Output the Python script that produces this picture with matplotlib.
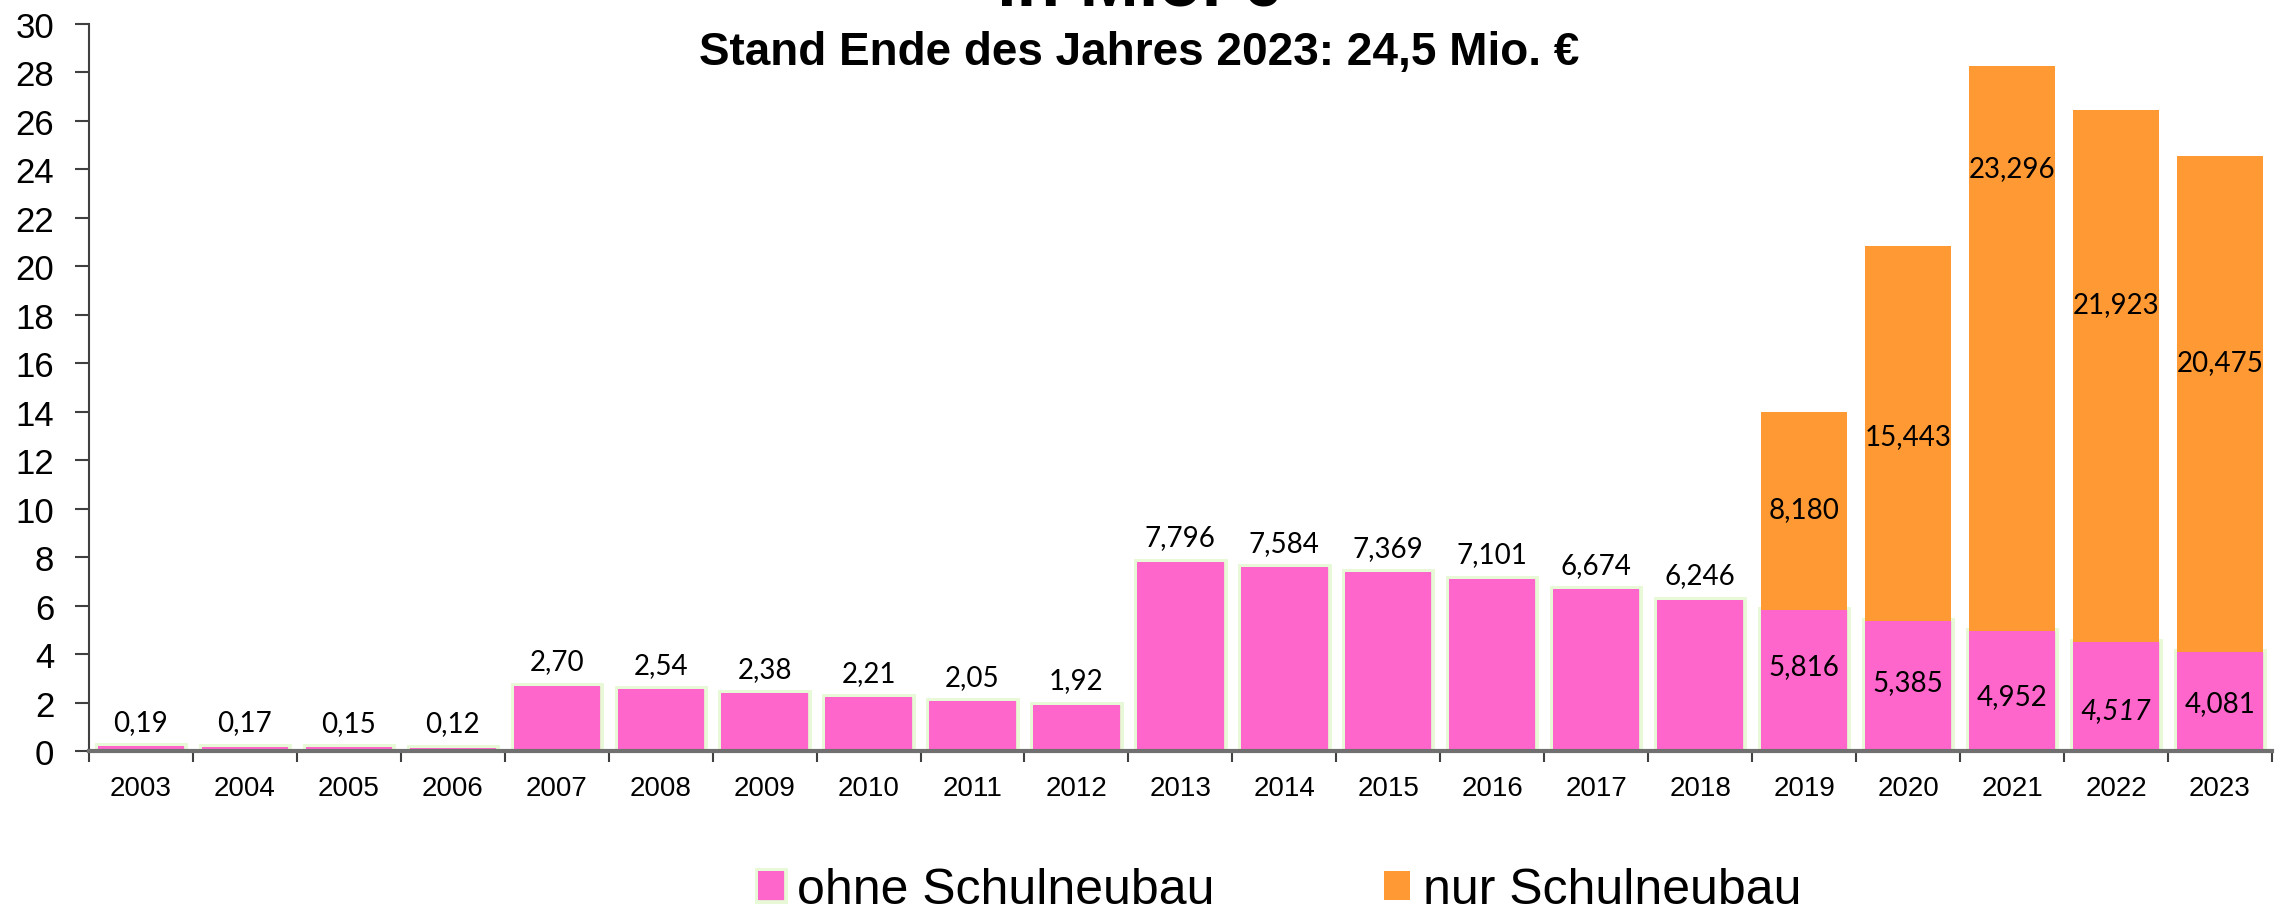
import matplotlib.pyplot as plt
import matplotlib.patheffects as pe
import numpy as np

# Daten (Mio. €)
jahre = ['2003', '2004', '2005', '2006', '2007', '2008', '2009', '2010', '2011', '2012',
         '2013', '2014', '2015', '2016', '2017', '2018', '2019', '2020', '2021', '2022', '2023']
ohne_schulneubau = [0.19, 0.17, 0.15, 0.12, 2.70, 2.54, 2.38, 2.21, 2.05, 1.92,
                    7.796, 7.584, 7.369, 7.101, 6.674, 6.246, 5.816, 5.385, 4.952, 4.517, 4.081]
nur_schulneubau = [0, 0, 0, 0, 0, 0, 0, 0, 0, 0,
                   0, 0, 0, 0, 0, 0, 8.180, 15.443, 23.296, 21.923, 20.475]
labels_ohne = ['0,19', '0,17', '0,15', '0,12', '2,70', '2,54', '2,38', '2,21', '2,05', '1,92',
               '7,796', '7,584', '7,369', '7,101', '6,674', '6,246',
               '5,816', '5,385', '4,952', '4,517', '4,081']
labels_nur = ['8,180', '15,443', '23,296', '21,923', '20,475']

# Beschriftungshoehen in den gestapelten Saeulen (wie im Original verschoben)
pos_ohne_stack = [3.5, 2.85, 2.25, 1.7, 2.0]
pos_nur_stack = [10.0, 13.0, 24.05, 18.45, 16.05]

PINK = '#FF66CC'
ORANGE = '#FF9933'

plt.rcParams['font.family'] = ['Liberation Sans', 'DejaVu Sans']

fig = plt.figure(figsize=(22.85, 9.12), dpi=100)
ax = fig.add_axes([0.0389, 0.1754, 0.9554, 0.7972])

x = np.arange(len(jahre))
glow = [pe.Stroke(linewidth=5, foreground='#d9f5bd', alpha=0.6), pe.Normal()]
b1 = ax.bar(x, ohne_schulneubau, width=0.83, color=PINK, label='ohne Schulneubau',
            path_effects=glow)
b2 = ax.bar(x, nur_schulneubau, width=0.83, bottom=ohne_schulneubau, color=ORANGE,
            label='nur Schulneubau')

ax.set_xlim(-0.5, len(jahre) - 0.5)
ax.set_ylim(0, 30)
ax.set_yticks(np.arange(0, 31, 2))
ax.set_xticks(x)
ax.set_xticklabels(jahre, fontsize=20)
ax.set_xticks(np.arange(-0.5, len(jahre)), minor=True)
ax.tick_params(axis='x', which='major', length=0, pad=17)
ax.tick_params(axis='x', which='minor', length=8, width=1.5, color='#404040')
ax.tick_params(axis='y', labelsize=25, length=10, width=1.5, color='#404040', pad=15)

ax.spines['top'].set_visible(False)
ax.spines['right'].set_visible(False)
ax.spines['left'].set_color('#404040')
ax.spines['left'].set_linewidth(1.5)
ax.spines['bottom'].set_color('#707070')
ax.spines['bottom'].set_linewidth(3)

# Datenbeschriftungen
lab_font = dict(family=['Lato', 'DejaVu Sans'], fontsize=20, color='black')
n_stack = len(labels_nur)
for i in range(len(jahre) - n_stack):
    ax.annotate(labels_ohne[i], (x[i], ohne_schulneubau[i]), xytext=(0, 12),
                textcoords='offset points', ha='center', va='baseline', **lab_font)
for k in range(n_stack):
    i = len(jahre) - n_stack + k
    style = 'italic' if jahre[i] == '2022' else 'normal'
    ax.text(x[i], pos_ohne_stack[k], labels_ohne[i], ha='center', va='center',
            style=style, **lab_font)
    ax.text(x[i], pos_nur_stack[k], labels_nur[k], ha='center', va='center', **lab_font)

# Titel (obere Zeile im Original abgeschnitten)
fig.text(0.4985, 0.9945, 'in Mio. €', ha='center', va='baseline', fontsize=51,
         fontweight='bold')
fig.text(0.4985, 0.9287, 'Stand Ende des Jahres 2023: 24,5 Mio. €', ha='center',
         va='baseline', fontsize=33, fontweight='bold')

fig.legend(handles=[b1, b2], loc='center', bbox_to_anchor=(0.560, 0.023), ncol=2,
           frameon=False, fontsize=36, handlelength=0.52, handleheight=0.52,
           handletextpad=0.25, columnspacing=3.4)

fig.savefig('out.png', dpi=100)
